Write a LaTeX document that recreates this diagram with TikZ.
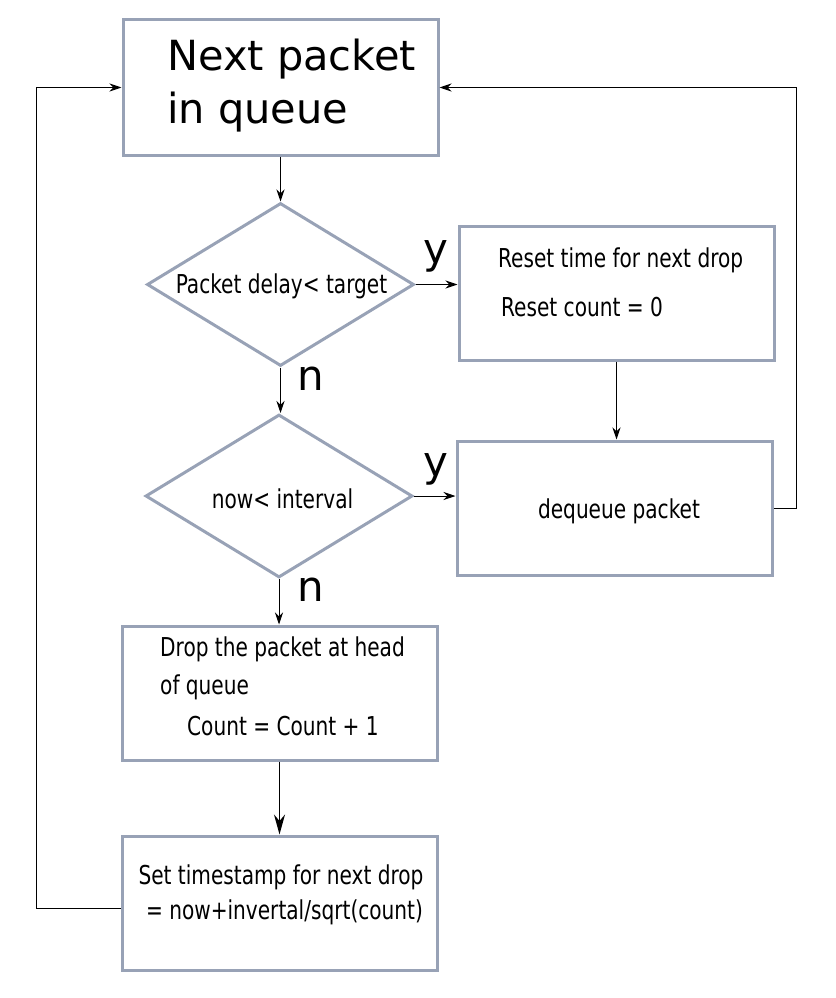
\documentclass[tikz,border=0pt]{standalone}
\usepackage{fontspec}
\setmainfont{DejaVu Sans}
\newfontfamily\condfont{DejaVu Sans Condensed}[FakeStretch=0.86]
\usetikzlibrary{shapes.geometric, arrows.meta, positioning, calc}
\definecolor{boxgray}{RGB}{152,162,182}
\tikzset{
  box/.style={rectangle, draw=boxgray, line width=3pt,
    minimum width=315pt, minimum height=134pt, inner sep=0pt},
  dec/.style={diamond, draw=boxgray, line width=3pt,
    minimum width=267pt, minimum height=163pt, inner sep=0pt},
  txt/.style={inner sep=0pt, font=\condfont\fontsize{26}{35}\selectfont, align=left},
  big/.style={inner sep=0pt, font=\fontsize{41.5}{53}\selectfont, align=left},
  yn/.style={inner sep=0pt, font=\fontsize{42}{50}\selectfont, anchor=base},
  arrow/.style={-{Stealth[length=12pt, width=8pt]}, line width=1pt},
  bigarrow/.style={-{Stealth[length=20pt, width=11pt]}, line width=1.5pt}
}
\begin{document}
\begin{tikzpicture}[x=1pt, y=-1pt]
  \useasboundingbox (0,0) rectangle (835,998);
  % boxes and decisions
  \node[box, minimum height=135pt] (top) at (280.5,87.5) {};
  \node[dec] (delay) at (280.5,284.5) {};
  \node[box] (reset) at (616.5,293) {};
  \node[dec] (ival) at (279,496) {};
  \node[box] (deq) at (614.5,508) {};
  \node[box] (drop) at (279.5,693) {};
  \node[box] (stamp) at (279.5,903) {};
  % texts
  \node[big, anchor=west] (toptxt) at (167,86) {Next packet\\in queue};
  \node[txt, align=center] (delaytxt) at (281.5,286) {Packet delay< target};
  \node[txt, anchor=west] (resettxt) at (498,282.5) {Reset time for next drop\\[14pt]\hspace*{3pt}Reset count = 0};
  \node[txt, align=center] (ivaltxt) at (282.5,498.4) {now< interval};
  \node[txt, align=center] (deqtxt) at (619,511) {dequeue packet};
  \node[txt, anchor=west, font=\condfont\fontsize{26}{38}\selectfont] (droptxt) at (160,686.5)
    {Drop the packet at head\\of queue\\[3pt]\hspace*{27pt}Count = Count + 1};
  \node[txt, align=center] (stamptxt) at (281,895) {Set timestamp for next drop\\\hspace*{7pt}= now+invertal/sqrt(count)};
  % y / n
  \node[yn] (y1) at (436,263) {y};
  \node[yn] (n1) at (311,390) {n};
  \node[yn] (y2) at (436,476) {y};
  \node[yn] (n2) at (311,601) {n};
  % connectors
  \draw[arrow] (top.south) -- (delay.north);
  \draw[arrow] (delay.east) -- (delay.east -| reset.west);
  \draw[arrow] (delay.south) -- (delay.south |- ival.north);
  \draw[arrow] (reset.south) -- (reset.south |- deq.north);
  \draw[arrow] (ival.east) -- (ival.east -| deq.west);
  \draw[arrow] (ival.south) -- (ival.south |- drop.north);
  \draw[bigarrow] (drop.south) -- (stamp.north);
  \draw[arrow] ([yshift=-5pt]stamp.west) -- ++(-84,0) |- (top.west);
  \draw[arrow] (deq.east) -- ++(23,0) |- (top.east);
\end{tikzpicture}
\end{document}
